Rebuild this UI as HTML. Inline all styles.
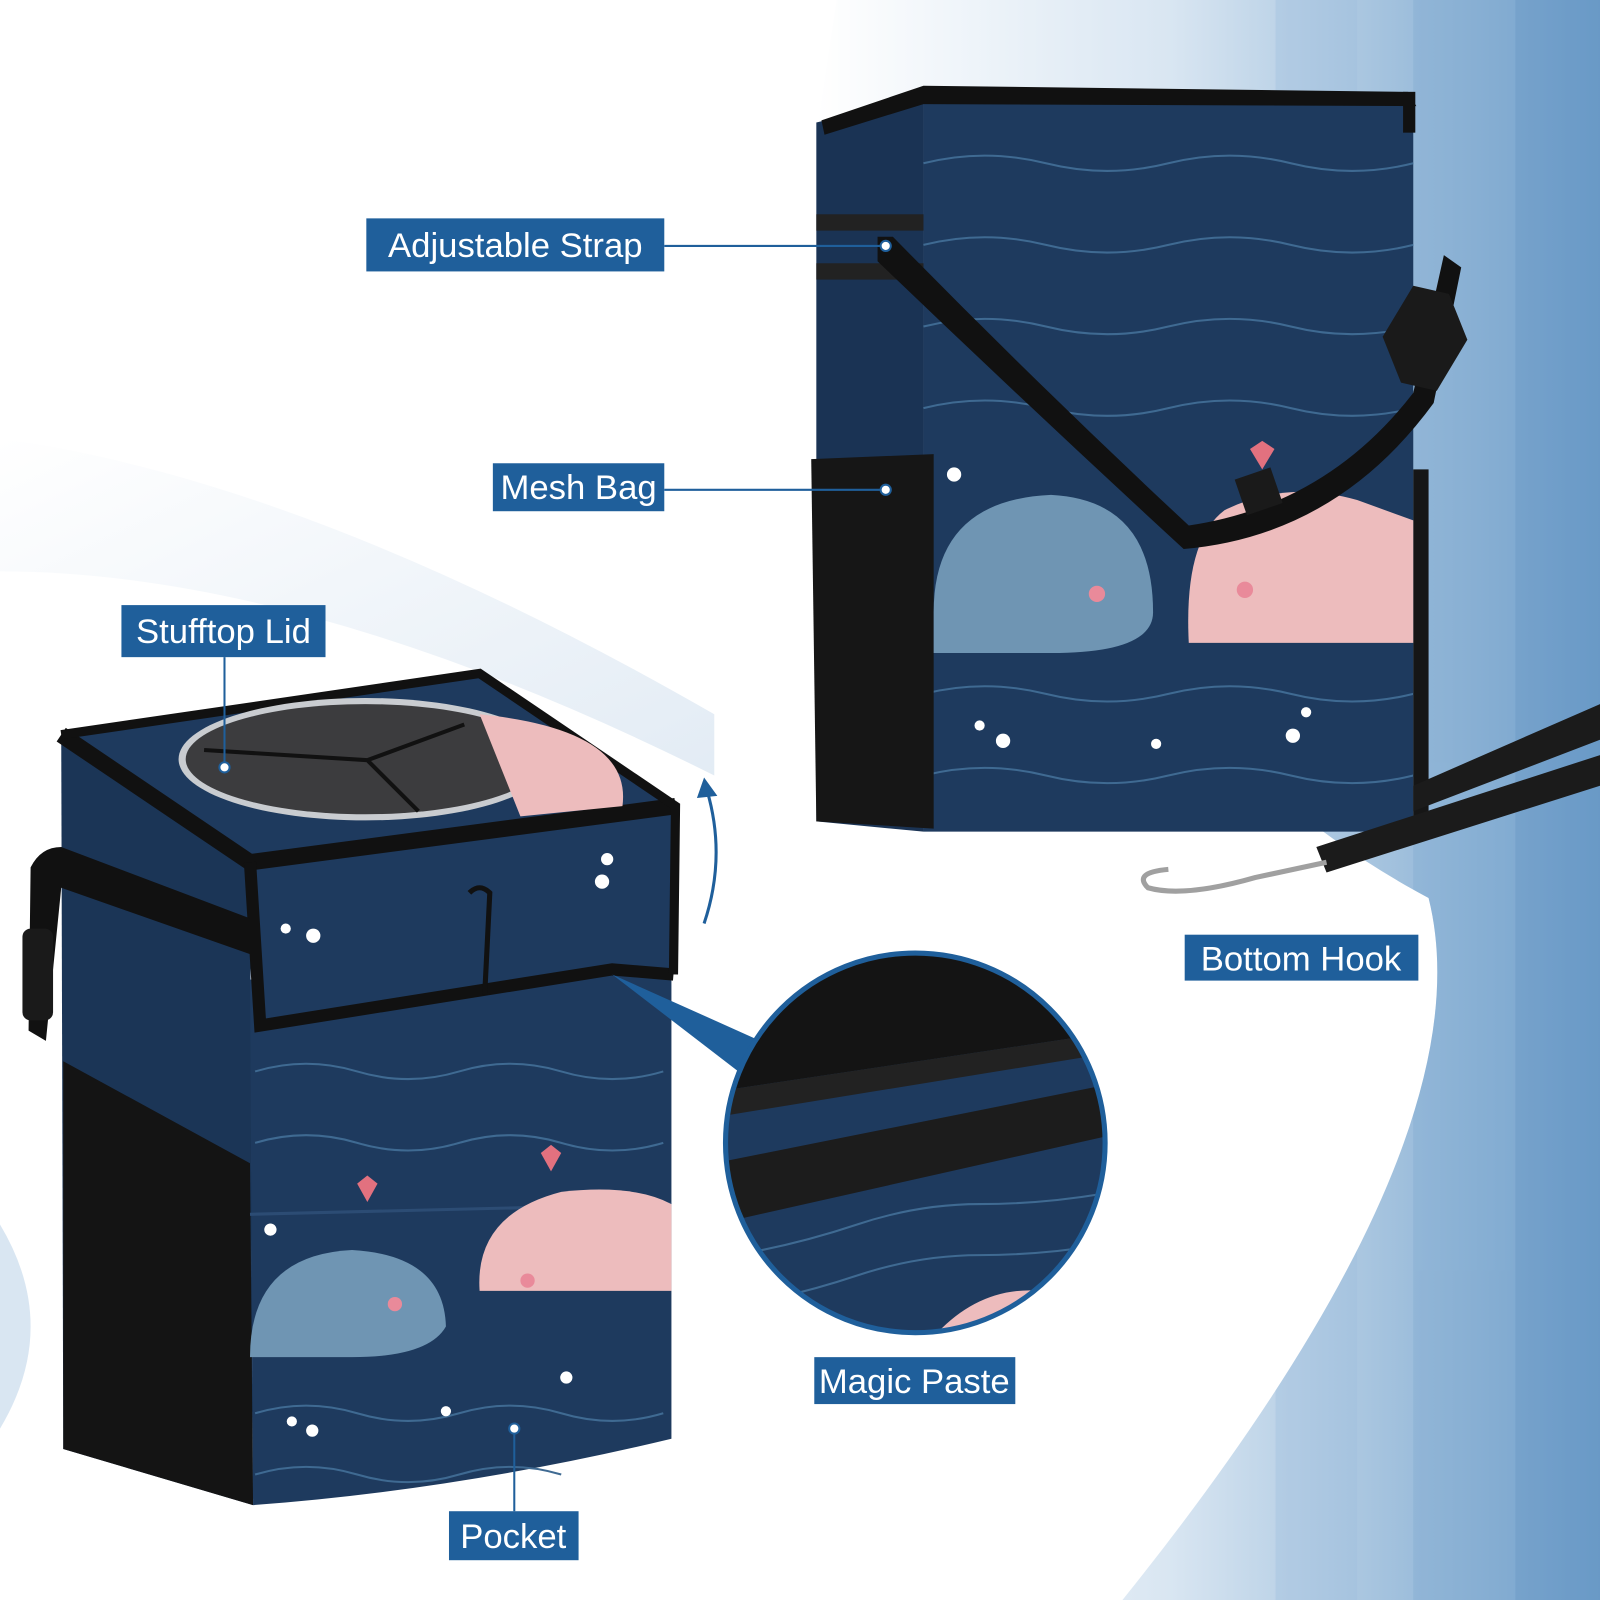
<!DOCTYPE html>
<html><head><meta charset="utf-8"><style>
html,body{margin:0;padding:0;background:#fff}
svg{display:block}
text{font-family:"Liberation Sans",sans-serif;fill:#fff;font-size:34px}
</style></head><body>
<svg width="1600" height="1600" viewBox="0 0 1568 1568" xmlns="http://www.w3.org/2000/svg">
<defs>
<linearGradient id="bg" x1="0" y1="0" x2="1" y2="0">
<stop offset="0" stop-color="#ffffff"/><stop offset="0.45" stop-color="#d9e6f2"/><stop offset="1" stop-color="#6f9fca"/>
</linearGradient>
<linearGradient id="band" x1="0" y1="0" x2="1" y2="1">
<stop offset="0" stop-color="#ffffff"/><stop offset="1" stop-color="#d6e3f0"/>
</linearGradient>
<clipPath id="cc"><circle cx="897" cy="1120" r="186"/></clipPath>
<clipPath id="bgc"><path d="M820 0 L1568 0 L1568 1568 L1100 1568 Q1460 1120 1400 880 Q1060 700 800 130 Z"/></clipPath>
</defs>
<rect width="1568" height="1568" fill="#fff"/>
<g clip-path="url(#bgc)">
<rect x="800" y="0" width="768" height="1568" fill="url(#bg)"/>
<g opacity="0.35">
<rect x="1250" y="0" width="80" height="1568" fill="#9dbddc"/>
<rect x="1385" y="0" width="100" height="1568" fill="#7ea8d0"/>
<rect x="1485" y="0" width="83" height="1568" fill="#5f90c0"/>
</g>
</g>
<path d="M0 430 Q300 470 700 700 L700 760 Q300 560 0 560 Z" fill="url(#band)" opacity="0.7"/>
<path d="M0 1200 Q60 1300 0 1400 Z" fill="#d9e6f2"/>

<!-- Top right bag -->
<path d="M800 120 L905 95 L905 815 L800 805 Z" fill="#1a3354"/>
<rect x="905" y="95" width="480" height="720" fill="#1e3a5e"/>
<path d="M805 118 L905 84 L1380 90 L1388 104 L905 102 L808 132 Z" fill="#111"/>
<rect x="1375" y="90" width="12" height="40" fill="#111"/>
<g stroke="#3f6a92" stroke-width="2" fill="none">
<path d="M905 160 q60 -15 120 0 t120 0 t120 0 t120 0"/>
<path d="M905 240 q60 -15 120 0 t120 0 t120 0 t120 0"/>
<path d="M905 320 q60 -15 120 0 t120 0 t120 0 t120 0"/>
<path d="M905 400 q60 -15 120 0 t120 0 t120 0 t120 0"/>
<path d="M905 680 q60 -15 120 0 t120 0 t120 0 t120 0"/>
<path d="M905 760 q60 -15 120 0 t120 0 t120 0 t120 0"/>
</g>
<path d="M795 450 L915 445 L915 812 L800 805 Z" fill="#161616"/>
<rect x="1385" y="460" width="15" height="340" fill="#161616"/>
<rect x="800" y="210" width="105" height="16" fill="#222"/>
<rect x="800" y="258" width="105" height="16" fill="#222"/>
<path d="M915 600 Q915 490 1030 485 Q1130 490 1130 600 Q1130 640 1030 640 L915 640 Z" fill="#6f95b3"/>
<path d="M1385 630 L1165 630 Q1160 530 1200 500 Q1260 470 1330 490 L1385 510 Z" fill="#edbcbd"/>
<circle cx="1075" cy="582" r="8" fill="#e98a9a"/><circle cx="1220" cy="578" r="8" fill="#e98a9a"/>
<path d="M1225 440 l12 -8 l12 8 l-12 20z" fill="#e2717f"/>
<path d="M860 232 L875 232 Q1020 380 1165 515 Q1300 495 1385 385 L1415 250 L1432 262 L1405 395 Q1310 525 1160 538 Q1010 400 860 256 Z" fill="#111"/>
<path d="M1355 330 l30 -50 l35 8 l18 45 l-30 50 l-35 -8 z" fill="#1a1a1a"/>
<path d="M1210 470 l35 -12 l12 35 l-35 12z" fill="#1a1a1a"/>
<path d="M1385 770 L1568 690 L1568 725 L1385 795 Z" fill="#1b1b1b"/>
<path d="M1290 830 L1568 740 L1568 770 L1300 855 Z" fill="#1b1b1b"/>
<path d="M1300 845 L1230 860 Q1160 880 1125 870 Q1110 855 1145 852" stroke="#a0a0a0" stroke-width="5" fill="none"/>
<circle cx="960" cy="711" r="5" fill="#fff"/><circle cx="983" cy="726" r="7" fill="#fff"/><circle cx="1133" cy="729" r="5" fill="#fff"/><circle cx="1280" cy="698" r="5" fill="#fff"/><circle cx="1267" cy="721" r="7" fill="#fff"/><circle cx="935" cy="465" r="7" fill="#fff"/>

<!-- Bottom left bag -->
<path d="M60 720 L245 840 L248 1475 L62 1420 Z" fill="#1b3556"/>
<path d="M62 1040 L245 1140 L248 1475 L62 1420 Z" fill="#141414"/>
<path d="M245 960 L658 930 L658 1410 Q450 1460 248 1475 Z" fill="#1e3a5e"/>
<path d="M245 1190 L658 1180" stroke="#2c4c74" stroke-width="3"/>
<g stroke="#3f6a92" stroke-width="2" fill="none">
<path d="M250 1050 q50 -15 100 0 t100 0 t100 0 t100 0"/>
<path d="M250 1120 q50 -15 100 0 t100 0 t100 0 t100 0"/>
<path d="M250 1385 q50 -15 100 0 t100 0 t100 0 t100 0"/>
<path d="M250 1445 q50 -15 100 0 t100 0 t100 0"/>
</g>
<path d="M245 1330 Q245 1230 345 1225 Q435 1230 437 1300 Q420 1330 345 1330 Z" fill="#6f95b3"/>
<path d="M658 1265 L470 1265 Q465 1190 550 1168 Q620 1160 658 1180 Z" fill="#edbcbd"/>
<circle cx="387" cy="1278" r="7" fill="#e98a9a"/><circle cx="517" cy="1255" r="7" fill="#e98a9a"/>
<path d="M530 1130 l10 -8 l10 8 l-10 18z" fill="#e2717f"/><path d="M350 1160 l10 -8 l10 8 l-10 18z" fill="#e2717f"/>
<path d="M60 720 L470 660 L662 790 L245 845 Z" fill="#1e3a5e"/>
<path d="M245 845 L662 790 L660 955 L600 950 L255 1005 Z" fill="#1e3a5e"/>
<path d="M60 720 L245 845 L662 790" stroke="#111" stroke-width="16" fill="none"/>
<path d="M245 845 L255 1005 L600 950 L660 955" stroke="#111" stroke-width="12" fill="none"/>
<path d="M60 720 L470 660 L662 790 L660 955" stroke="#111" stroke-width="9" fill="none"/>
<path d="M30 850 Q40 830 60 830 L245 900 L245 935 L60 870 L45 1020 L28 1010 Z" fill="#111"/>
<rect x="22" y="910" width="30" height="90" rx="8" fill="#1a1a1a"/>
<ellipse cx="358" cy="744" rx="183" ry="60" fill="#c9ccd0"/>
<ellipse cx="358" cy="744" rx="176" ry="54" fill="#3c3c3e"/>
<path d="M200 735 L360 745 L455 710 M360 745 L410 795" stroke="#111" stroke-width="4" fill="none"/>
<path d="M470 700 Q620 715 610 790 L510 800 Z" fill="#edbcbd"/>
<path d="M460 875 q10 -10 20 0 L475 975" stroke="#111" stroke-width="5" fill="none"/>
<circle cx="595" cy="842" r="6" fill="#fff"/><circle cx="590" cy="864" r="7" fill="#fff"/><circle cx="280" cy="910" r="5" fill="#fff"/><circle cx="307" cy="917" r="7" fill="#fff"/><circle cx="286" cy="1393" r="5" fill="#fff"/><circle cx="306" cy="1402" r="6" fill="#fff"/><circle cx="437" cy="1383" r="5" fill="#fff"/><circle cx="555" cy="1350" r="6" fill="#fff"/><circle cx="265" cy="1205" r="6" fill="#fff"/>

<!-- curved arrow -->
<path d="M690 905 Q712 840 693 775" stroke="#1f5f9b" stroke-width="3" fill="none"/>
<path d="M683 782 L690 762 L703 780 Z" fill="#1f5f9b"/>

<!-- magnifier -->
<path d="M600 955 L745 1020 L730 1055 Z" fill="#1f5f9b"/>
<g clip-path="url(#cc)">
<rect x="700" y="930" width="400" height="400" fill="#1e3a5e"/>
<path d="M700 930 L1100 930 L1100 1010 L700 1070 Z" fill="#141414"/>
<path d="M700 1070 L1100 1010 L1100 1030 L700 1095 Z" fill="#222"/>
<path d="M700 1140 L1100 1060 L1100 1110 L700 1200 Z" fill="#1c1c1c"/>
<g stroke="#3f6a92" stroke-width="2" fill="none">
<path d="M720 1230 q60 -10 120 -30 t120 -20 t120 -10"/>
<path d="M720 1280 q60 -10 120 -30 t120 -20 t120 -10"/>
</g>
<path d="M915 1310 Q960 1260 1020 1265 L1040 1310 Z" fill="#edbcbd"/>
</g>
<circle cx="897" cy="1120" r="186" fill="none" stroke="#1f5f9b" stroke-width="5"/>

<!-- labels -->
<g stroke="#1f5f9b" stroke-width="2">
<line x1="651" y1="241" x2="868" y2="241"/>
<line x1="651" y1="480" x2="868" y2="480"/>
<line x1="220" y1="644" x2="220" y2="750"/>
<line x1="504" y1="1481" x2="504" y2="1400"/>
</g>
<g fill="#fff" stroke="#1f5f9b" stroke-width="2">
<circle cx="868" cy="241" r="5"/><circle cx="868" cy="480" r="5"/><circle cx="220" cy="752" r="5"/><circle cx="504" cy="1400" r="5"/>
</g>
<g fill="#1f5f9b">
<rect x="359" y="214" width="292" height="52"/>
<rect x="483" y="454" width="168" height="47"/>
<rect x="119" y="593" width="200" height="51"/>
<rect x="1161" y="916" width="229" height="45"/>
<rect x="798" y="1330" width="197" height="46"/>
<rect x="440" y="1481" width="127" height="48"/>
</g>
<text x="505" y="252" text-anchor="middle">Adjustable Strap</text>
<text x="567" y="489" text-anchor="middle">Mesh Bag</text>
<text x="219" y="630" text-anchor="middle">Stufftop Lid</text>
<text x="1275" y="951" text-anchor="middle">Bottom Hook</text>
<text x="896" y="1365" text-anchor="middle">Magic Paste</text>
<text x="503" y="1517" text-anchor="middle">Pocket</text>
</svg>
</body></html>
